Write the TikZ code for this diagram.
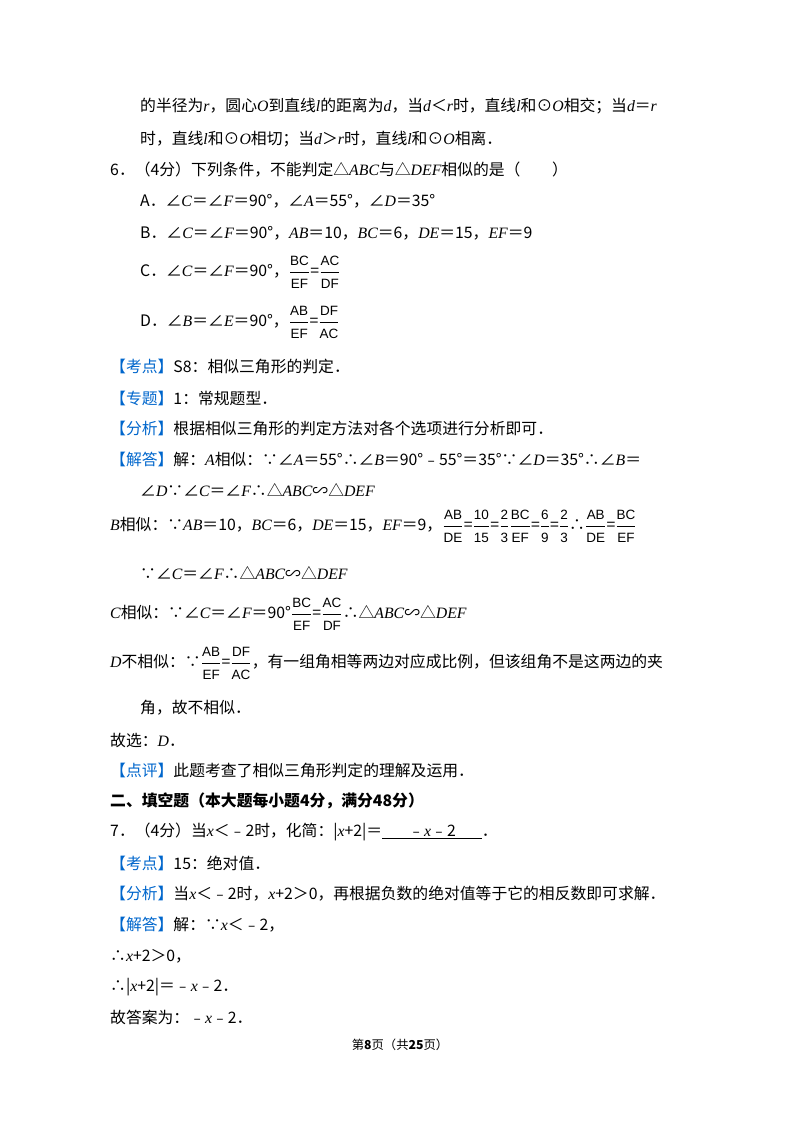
\documentclass[tikz,border=0pt]{standalone}
\usepackage{fontspec}
\setmainfont{Noto Sans CJK SC}
\setsansfont{Liberation Sans}
\newfontfamily\tms{Liberation Serif}
\usetikzlibrary{positioning}
\definecolor{tagblue}{RGB}{0,102,204}
\newcommand{\mi}[1]{{\tms\itshape #1}}
\newcommand{\tg}[1]{{\color{tagblue}【#1】}}
\newcommand{\fr}[2]{$\displaystyle\frac{\hbox{\sffamily\fontsize{11.5}{12}\selectfont #1}}{\hbox{\sffamily\fontsize{11.5}{12}\selectfont #2}}$}
\tikzset{
  line/.style={anchor=west,inner sep=0pt,font=\fontsize{13.5}{16}\selectfont},
  foot/.style={inner sep=0pt,font=\fontsize{10.5}{12}\selectfont}
}
\begin{document}
\begin{tikzpicture}[x=0.3mm,y=-0.3mm]
\useasboundingbox (0,0) rectangle (800,1132);
% previous question tail
\node[line] (l1) at (140,106) {的半径为\mi{r}，圆心\mi{O}到直线\mi{l}的距离为\mi{d}，当\mi{d}＜\mi{r}时，直线\mi{l}和⊙\mi{O}相交；当\mi{d}＝\mi{r}};
\node[line] (l2) at (140,139) {时，直线\mi{l}和⊙\mi{O}相切；当\mi{d}＞\mi{r}时，直线\mi{l}和⊙\mi{O}相离．};
% question 6
\node[line] (q6) at (110,170) {6．（4分）下列条件，不能判定△\mi{ABC}与△\mi{DEF}相似的是（\quad\quad）};
\node[line] (qa) at (140,201) {A．∠\mi{C}＝∠\mi{F}＝90°，∠\mi{A}＝55°，∠\mi{D}＝35°};
\node[line] (qb) at (140,233) {B．∠\mi{C}＝∠\mi{F}＝90°，\mi{AB}＝10，\mi{BC}＝6，\mi{DE}＝15，\mi{EF}＝9};
\node[line] (qc) at (140,272) {C．∠\mi{C}＝∠\mi{F}＝90°，\fr{BC}{EF}=\fr{AC}{DF}};
\node[line] (qd) at (140,322) {D．∠\mi{B}＝∠\mi{E}＝90°，\fr{AB}{EF}=\fr{DF}{AC}};
\node[line] (k6) at (110,366) {\tg{考点}S8：相似三角形的判定．};
\node[line] (z6) at (110,398) {\tg{专题}1：常规题型．};
\node[line] (f6) at (110,428) {\tg{分析}根据相似三角形的判定方法对各个选项进行分析即可．};
\node[line] (j6) at (110,459) {\tg{解答}解：\mi{A}相似：∵∠\mi{A}＝55°∴∠\mi{B}＝90°﹣55°＝35°∵∠\mi{D}＝35°∴∠\mi{B}＝};
\node[line] (j6b) at (140,490) {∠\mi{D}∵∠\mi{C}＝∠\mi{F}∴△\mi{ABC}∽△\mi{DEF}};
\node[line] (j6c) at (110,526) {\mi{B}相似：∵\mi{AB}＝10，\mi{BC}＝6，\mi{DE}＝15，\mi{EF}＝9，\fr{AB}{DE}=\fr{10}{15}=\fr{2}{3}\fr{BC}{EF}=\fr{6}{9}=\fr{2}{3}∴\fr{AB}{DE}=\fr{BC}{EF}};
\node[line] (j6d) at (140,573) {∵∠\mi{C}＝∠\mi{F}∴△\mi{ABC}∽△\mi{DEF}};
\node[line] (j6e) at (110,614) {\mi{C}相似：∵∠\mi{C}＝∠\mi{F}＝90°\fr{BC}{EF}=\fr{AC}{DF}∴△\mi{ABC}∽△\mi{DEF}};
\node[line] (j6f) at (110,663) {\mi{D}不相似：∵\fr{AB}{EF}=\fr{DF}{AC}，有一组角相等两边对应成比例，但该组角不是这两边的夹};
\node[line] (j6g) at (140,708) {角，故不相似．};
\node[line] (x6) at (110,740) {故选：\mi{D}．};
\node[line] (p6) at (110,770) {\tg{点评}此题考查了相似三角形判定的理解及运用．};
% section two
\node[line,font=\fontsize{13.5}{16}\selectfont\bfseries] (s2) at (110,801) {二、填空题（本大题每小题4分，满分48分）};
% question 7
\node[line] (q7) at (110,832) {7．（4分）当\mi{x}＜﹣2时，化简：|\mi{x}+2|＝\underline{\hbox to 85\unitlength{\hfil﹣\mi{x}﹣2\hfil}}．};
\node[line] (k7) at (110,863) {\tg{考点}15：绝对值．};
\node[line] (f7) at (110,894) {\tg{分析}当\mi{x}＜﹣2时，\mi{x}+2＞0，再根据负数的绝对值等于它的相反数即可求解．};
\node[line] (j7) at (110,925) {\tg{解答}解：∵\mi{x}＜﹣2，};
\node[line] (j7b) at (110,956) {∴\mi{x}+2＞0，};
\node[line] (j7c) at (110,987) {∴|\mi{x}+2|＝﹣\mi{x}﹣2．};
\node[line] (j7d) at (110,1017) {故答案为：﹣\mi{x}﹣2．};
% footer
\node[foot] (pg) at (400,1045) {第\textbf{8}页（共\textbf{25}页）};
\end{tikzpicture}
\end{document}
